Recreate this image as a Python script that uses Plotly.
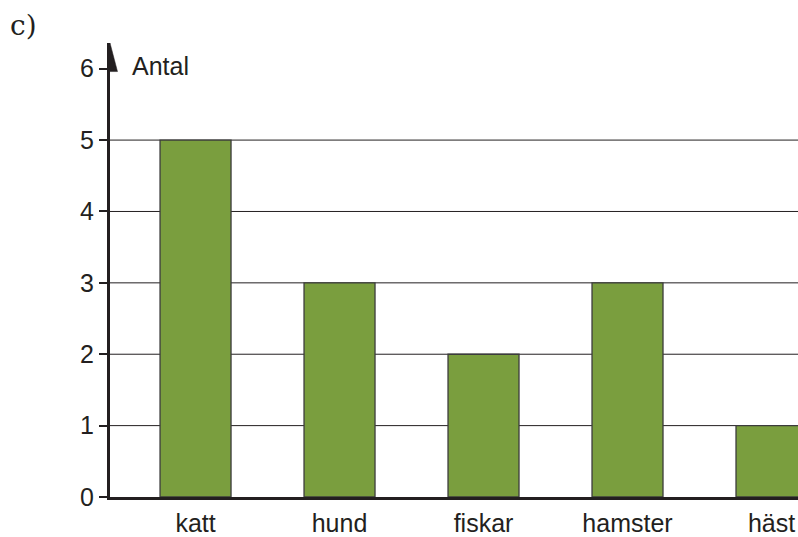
import plotly.graph_objects as go

categories = ["katt", "hund", "fiskar", "hamster", "häst"]
values = [5, 3, 2, 3, 1]
y_ticks = [0, 1, 2, 3, 4, 5, 6]
grid_values = [1, 2, 3, 4, 5]

INK = "#231f20"
FONT = "Liberation Sans"

fig = go.Figure()
fig.add_trace(go.Bar(
    x=categories, y=values, width=0.493,
    marker=dict(color="#7a9e3e", line=dict(color="#3c3c3c", width=1.3)),
    showlegend=False, hoverinfo="skip",
))

shapes = []
for g in grid_values:
    shapes.append(dict(type="line", xref="paper", yref="y", x0=0, x1=1, y0=g, y1=g,
                       line=dict(color=INK, width=1), layer="below"))
# arrow head on top of the y axis
ax = -0.594
shapes.append(dict(type="path", xref="x", yref="y",
                   path=f"M {ax-0.052},5.96 L {ax},6.36 L {ax+0.052},5.96 Z",
                   fillcolor=INK, line=dict(color=INK, width=0.5), layer="above"))

fig.update_layout(
    width=798, height=537,
    margin=dict(l=110, r=0, t=43, b=36),
    paper_bgcolor="white", plot_bgcolor="white",
    font=dict(family=FONT, size=25, color=INK),
    shapes=shapes,
    xaxis=dict(type="category", categoryorder="array", categoryarray=categories,
               range=[-0.594, 4.184], showline=True, linewidth=3, linecolor=INK,
               ticks="", showgrid=False, zeroline=False,
               tickfont=dict(size=25, color=INK), ticklabelstandoff=2),
    yaxis=dict(range=[0, 6.36], tickvals=y_ticks, showgrid=False, zeroline=False,
               showline=True, linewidth=3, linecolor=INK,
               ticks="outside", ticklen=8, tickwidth=1.5, tickcolor=INK,
               tickfont=dict(size=25, color=INK)),
    annotations=[
        dict(text="Antal", xref="paper", yref="y", x=0, y=6.035, xshift=20,
             xanchor="left", yanchor="middle", showarrow=False,
             font=dict(size=25, color=INK)),
        dict(text="c)", xref="paper", yref="paper", x=-110/688, xshift=8, y=1, yshift=18,
             xanchor="left", yanchor="middle", showarrow=False,
             font=dict(size=28, color=INK, family="DejaVu Serif")),
    ],
)

fig.write_html(
    "out.html",
    config={"displayModeBar": False},
    post_script="document.body.style.margin='0';document.body.style.overflow='hidden';",
)
